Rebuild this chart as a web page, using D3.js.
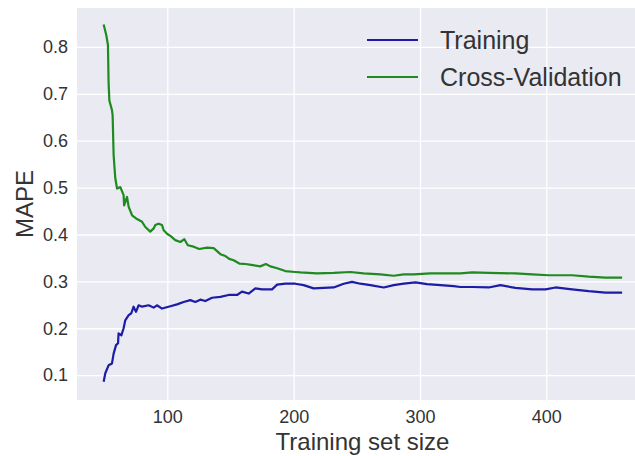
<!DOCTYPE html>
<html>
<head>
<meta charset="utf-8">
<script src="https://cdn.jsdelivr.net/npm/d3@7"></script>
<style>
	body { margin: 0; background: #fff; }
	svg { display: block; font-family: "Liberation Sans", Arial, sans-serif; }
</style>
</head>
<body>
<svg id="chart" width="635" height="456"></svg>
<script>
// training set sizes and MAPE
let trainSizes = [49.6, 50.9, 53.5, 56.2, 57.5, 59.4, 61.0, 61.4, 63.6, 65.4, 66.7, 69.4, 71.5, 73.3, 75.2, 77.3, 80.0, 85.2, 89.2, 91.8, 95.8, 102.4, 107.7, 112.9, 118.2, 122.2, 126.1, 130.1, 135.4, 142, 148.5, 155.2, 159.1, 164.4, 169.7, 175, 182.9, 186.9, 193.4, 201.3, 207.9, 215.8, 223.8, 231.7, 239.6, 246.2, 252.8, 260.7, 271.3, 279.2, 287.1, 296.4, 305.6, 316.2, 326.7, 332, 341.3, 354.4, 363.7, 375.5, 388.8, 399.4, 407.2, 420.4, 433.6, 446.8, 460];
let trainMape = [0.086, 0.104, 0.121, 0.125, 0.146, 0.164, 0.168, 0.189, 0.185, 0.2, 0.217, 0.228, 0.232, 0.246, 0.235, 0.249, 0.246, 0.249, 0.244, 0.249, 0.242, 0.247, 0.251, 0.256, 0.26, 0.256, 0.261, 0.258, 0.265, 0.267, 0.271, 0.271, 0.278, 0.274, 0.285, 0.283, 0.283, 0.293, 0.295, 0.295, 0.292, 0.285, 0.286, 0.287, 0.295, 0.299, 0.295, 0.292, 0.287, 0.292, 0.295, 0.298, 0.294, 0.292, 0.29, 0.288, 0.288, 0.287, 0.292, 0.286, 0.283, 0.283, 0.287, 0.283, 0.279, 0.276, 0.276];

let cvSizes = [49.6, 51.7, 53.0, 53.5, 54.1, 56.2, 56.7, 57.5, 58.8, 60.2, 62.8, 65.4, 65.8, 68.1, 69.4, 72.1, 76.0, 80.0, 82.6, 86.5, 89.2, 90.5, 93.1, 95.8, 97.1, 100, 102.4, 106.3, 110.3, 113.5, 116.2, 120.8, 125.3, 131.4, 136.7, 139.6, 142, 146, 149, 152.5, 157, 161.8, 166.5, 173.6, 178, 181.6, 187, 193.4, 201.3, 205.3, 218.5, 231.7, 244.9, 255.4, 268.6, 279.2, 287.1, 295, 308.2, 321.5, 332, 341.3, 354.4, 375.5, 388.8, 401.9, 420.4, 433.6, 446.8, 460];
let cvMape = [0.848, 0.825, 0.804, 0.725, 0.686, 0.665, 0.654, 0.569, 0.52, 0.498, 0.501, 0.484, 0.462, 0.48, 0.459, 0.441, 0.433, 0.427, 0.416, 0.406, 0.413, 0.42, 0.423, 0.42, 0.409, 0.401, 0.397, 0.388, 0.384, 0.39, 0.377, 0.374, 0.369, 0.372, 0.371, 0.364, 0.358, 0.354, 0.348, 0.345, 0.338, 0.337, 0.335, 0.332, 0.337, 0.332, 0.328, 0.322, 0.32, 0.319, 0.317, 0.318, 0.32, 0.317, 0.315, 0.312, 0.315, 0.315, 0.317, 0.317, 0.317, 0.319, 0.318, 0.317, 0.315, 0.313, 0.313, 0.31, 0.308, 0.308];

let xTicks = [100, 200, 300, 400];
let yTicks = [0.1, 0.2, 0.3, 0.4, 0.5, 0.6, 0.7, 0.8];
let seriesNames = ["Training", "Cross-Validation"];
let seriesColours = ["#1c1ca6", "#1f8a1f"];

let svg = d3.select("#chart");
let margin = {"left": 77, "top": 8};
let plotW = 571, plotH = 392;

let x = d3.scaleLinear().domain([28.5, 480.5]).range([margin.left, margin.left + plotW]);
let y = d3.scaleLinear().domain([0.047, 0.883]).range([margin.top + plotH, margin.top]);

svg.append("rect")
	.attr("x", margin.left)
	.attr("y", margin.top)
	.attr("width", plotW)
	.attr("height", plotH)
	.attr("fill", "#eaeaf2");

// grid
let xAxis = svg.append("g")
	.attr("transform", `translate(0,${margin.top + plotH})`)
	.call(d3.axisBottom(x).tickValues(xTicks).tickSize(-plotH).tickPadding(10).tickFormat(d3.format("d")));
let yAxis = svg.append("g")
	.attr("transform", `translate(${margin.left},0)`)
	.call(d3.axisLeft(y).tickValues(yTicks).tickSize(-plotW).tickPadding(9).tickFormat(d3.format(".1f")));

[xAxis, yAxis].forEach(function(a){
	a.select(".domain").remove();
	a.selectAll(".tick line").attr("stroke", "#fff").attr("stroke-width", 1.3);
	a.selectAll(".tick text")
		.attr("fill", "#333")
		.attr("font-size", "18px")
		.attr("font-family", "\"Liberation Sans\", Arial, sans-serif");
});

let line = d3.line().x(d => x(d[0])).y(d => y(d[1]));
let series = [d3.zip(trainSizes, trainMape), d3.zip(cvSizes, cvMape)];

svg.selectAll(".curve")
	.data(series)
	.enter().append("path")
		.attr("class", "curve")
		.attr("d", line)
		.attr("fill", "none")
		.attr("stroke", (d, i) => seriesColours[i])
		.attr("stroke-width", 2.2)
		.attr("stroke-linejoin", "round");

// axis labels
svg.append("text")
	.attr("x", margin.left + plotW / 2)
	.attr("y", 450)
	.attr("text-anchor", "middle")
	.attr("font-size", "24px")
	.attr("fill", "#333")
	.text("Training set size");

svg.append("text")
	.attr("transform", `translate(33,${margin.top + plotH / 2}) rotate(-90)`)
	.attr("text-anchor", "middle")
	.attr("font-size", "24px")
	.attr("fill", "#333")
	.text("MAPE");

// legend
let legend = svg.append("g").attr("class", "legend");
legend.selectAll("line")
	.data(seriesNames)
	.enter().append("line")
		.attr("x1", 367)
		.attr("x2", 418)
		.attr("y1", (d, i) => 40 + i * 37)
		.attr("y2", (d, i) => 40 + i * 37)
		.attr("stroke", (d, i) => seriesColours[i])
		.attr("stroke-width", 2.2);
legend.selectAll("text")
	.data(seriesNames)
	.enter().append("text")
		.attr("x", 440)
		.attr("y", (d, i) => 40 + i * 37)
		.attr("dy", "0.35em")
		.attr("font-size", "25px")
		.attr("fill", "#333")
		.text(d => d);
</script>
</body>
</html>
